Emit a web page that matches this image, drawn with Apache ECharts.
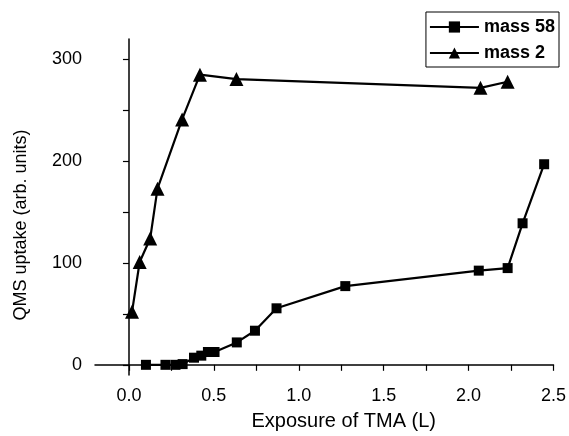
<!DOCTYPE html>
<html>
<head>
<meta charset="utf-8">
<script src="https://cdn.jsdelivr.net/npm/echarts@6/dist/echarts.min.js"></script>
<style>
  html, body { margin: 0; padding: 0; background: #fff; }
  #chart { width: 569px; height: 436px; }
</style>
</head>
<body>
<div id="chart"></div>
<script>
// exposure (L) and uptake
var mass58X = [0.10, 0.215, 0.274, 0.316, 0.383, 0.426, 0.465, 0.504, 0.635, 0.742, 0.869, 1.274, 2.06, 2.23, 2.318, 2.445];
var mass58Y = [0, 0, 0, 0.7, 7, 9, 12.6, 12.6, 22, 33.5, 55.5, 77.3, 92.5, 95, 139, 197];
var mass2X = [0.018, 0.063, 0.125, 0.168, 0.313, 0.418, 0.633, 2.07, 2.23];
var mass2Y = [52, 101, 124, 173, 241, 285, 280.6, 272, 278];

var xLabels = [0, 0.5, 1, 1.5, 2, 2.5];
var xTicks = [0, 0.25, 0.5, 0.75, 1, 1.25, 1.5, 1.75, 2, 2.25, 2.5];
var yLabels = [0, 100, 200, 300];
var yTicks = [0, 50, 100, 150, 200, 250, 300];

function pairs(xs, ys) {
    return xs.map(function(x, i) { return [x, ys[i]]; });
}

var font = 'Liberation Sans, Arial, Helvetica, sans-serif';

var chart = echarts.init(document.getElementById('chart'));
var option = {
    animation: false,
    backgroundColor: '#fff',
    textStyle: { fontFamily: font, color: '#000' },
    grid: { left: 95, right: 13, top: 39, bottom: 55, containLabel: false },
    legend: {
        orient: 'vertical',
        right: 10,
        top: 12,
        data: ['mass 58', 'mass 2'],
        itemWidth: 49,
        itemHeight: 14,
        itemGap: 8,
        itemTextGap: 6,
        padding: [6, 4, 5, 3],
        borderColor: '#000',
        borderWidth: 1,
        borderRadius: 0,
        textStyle: { fontSize: 18, fontWeight: 'bold', color: '#000', fontFamily: font, lineHeight: 18 }
    },
    xAxis: {
        type: 'value',
        min: -0.2,
        max: 2.5,
        name: 'Exposure of TMA (L)',
        nameLocation: 'middle',
        nameGap: 36,
        nameTextStyle: { fontSize: 20, color: '#000', padding: [0, 0, 0, 39] },
        axisLine: { lineStyle: { color: '#000', width: 1.5 } },
        axisTick: { show: true, length: 6, lineStyle: { color: '#000', width: 1.2 }, customValues: xTicks },
        axisLabel: {
            fontSize: 18, color: '#000', margin: 12, customValues: xLabels,
            formatter: function(v) { return v.toFixed(1); }
        },
        splitLine: { show: false }
    },
    yAxis: {
        type: 'value',
        min: -10,
        max: 320,
        name: 'QMS uptake (arb. units)',
        nameLocation: 'middle',
        nameGap: 65,
        nameTextStyle: { fontSize: 18, color: '#000', padding: [0, 36, 0, 0] },
        axisLine: { show: true, lineStyle: { color: '#000', width: 1.5 } },
        axisTick: { show: true, length: 6, lineStyle: { color: '#000', width: 1.2 }, customValues: yTicks },
        axisLabel: { fontSize: 18, color: '#000', margin: 13, customValues: yLabels },
        splitLine: { show: false }
    },
    series: [
        {
            name: 'mass 58',
            type: 'line',
            data: pairs(mass58X, mass58Y),
            symbol: 'rect',
            symbolSize: 10,
            itemStyle: { color: '#000' },
            lineStyle: { color: '#000', width: 2.2 }
        },
        {
            name: 'mass 2',
            type: 'line',
            data: pairs(mass2X, mass2Y),
            symbol: 'triangle',
            symbolSize: 14,
            itemStyle: { color: '#000' },
            lineStyle: { color: '#000', width: 2.2 }
        }
    ]
};
chart.setOption(option);
</script>
</body>
</html>
